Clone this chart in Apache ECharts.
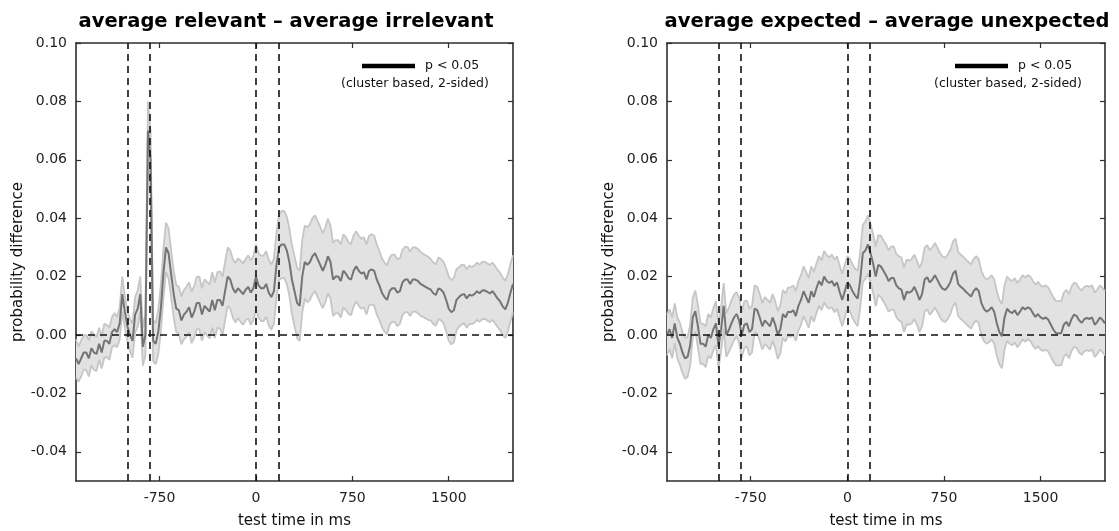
<!DOCTYPE html>
<html><head><meta charset="utf-8">
<script src="https://cdn.jsdelivr.net/npm/echarts@6/dist/echarts.min.js"></script>
<style>html,body{margin:0;padding:0;background:#fff}#c{width:1119px;height:531px}</style>
</head><body><div id="c"></div>
<script>
const panelTitles = ['average relevant \u2013 average irrelevant', 'average expected \u2013 average unexpected'];
const xTicks = [-750, 0, 750, 1500];
const yTicks = [-0.04, -0.02, 0, 0.02, 0.04, 0.06, 0.08, 0.10];
const eventLinesMs = [-1000, -825, 0, 175];
const legendLabel = 'p < 0.05';
const legendNote = '(cluster based, 2-sided)';
const timeStartMs = -1400;
const timeStepMs = 20;

// left panel: mean and SEM (20 ms steps from -1400 ms)
const relMean = [
-0.008,-0.010,-0.008,-0.006,-0.006,-0.008,-0.0045,-0.006,-0.0065,-0.003,
-0.006,-0.002,-0.002,-0.003,0.001,0.002,0.001,0.004,0.014,0.008,
0.003,0.000,-0.002,0.007,0.009,0.014,-0.004,0.000,0.070,0.060,
-0.002,-0.003,0.001,0.009,0.021,0.030,0.028,0.021,0.014,0.009,
0.0085,0.005,0.007,0.008,0.0095,0.006,0.008,0.011,0.011,0.007,
0.010,0.009,0.008,0.012,0.0085,0.012,0.012,0.010,0.015,0.020,
0.019,0.016,0.0145,0.016,0.015,0.014,0.0155,0.0165,0.0145,0.016,
0.020,0.017,0.016,0.016,0.0175,0.0145,0.013,0.015,0.024,0.030,
0.031,0.031,0.029,0.025,0.019,0.015,0.011,0.010,0.020,0.025,
0.024,0.025,0.027,0.028,0.026,0.024,0.022,0.024,0.027,0.025,
0.019,0.020,0.020,0.0185,0.022,0.021,0.0195,0.019,0.022,0.0235,
0.022,0.021,0.0215,0.019,0.022,0.0225,0.022,0.019,0.017,0.0145,
0.013,0.012,0.015,0.016,0.016,0.0145,0.015,0.018,0.019,0.019,
0.0175,0.019,0.019,0.0185,0.0175,0.017,0.0165,0.016,0.0155,0.0143,
0.0137,0.016,0.0155,0.0145,0.012,0.009,0.0078,0.0085,0.012,0.013,
0.0138,0.014,0.0125,0.0138,0.0135,0.014,0.015,0.0143,0.0152,0.0153,
0.0148,0.0142,0.015,0.0138,0.0125,0.0115,0.0098,0.0088,0.011,0.0145,
0.0175];
const relSem = [
0.0065,0.006,0.0062,0.0058,0.006,0.0062,0.0058,0.006,0.0058,0.0055,
0.0055,0.0058,0.0055,0.0055,0.0052,0.0055,0.0052,0.0055,0.006,0.0055,
0.0052,0.0055,0.0058,0.006,0.0062,0.006,0.0065,0.007,0.010,0.010,
0.007,0.007,0.0075,0.008,0.0085,0.0085,0.0085,0.008,0.008,0.008,
0.008,0.0082,0.0085,0.0085,0.0085,0.0088,0.0088,0.009,0.009,0.009,
0.009,0.0092,0.0092,0.0095,0.0095,0.0095,0.0098,0.010,0.010,0.010,
0.010,0.010,0.0102,0.0102,0.0105,0.0105,0.0105,0.0108,0.011,0.011,
0.011,0.011,0.0112,0.0112,0.0112,0.0112,0.0112,0.0112,0.0112,0.0112,
0.0115,0.0115,0.0115,0.0115,0.0118,0.012,0.012,0.012,0.0125,0.0125,
0.0128,0.013,0.013,0.013,0.013,0.013,0.0128,0.0128,0.0128,0.0125,
0.0125,0.0125,0.0125,0.0125,0.0125,0.0125,0.0122,0.0122,0.0122,0.012,
0.012,0.012,0.012,0.012,0.012,0.012,0.012,0.012,0.0118,0.0118,
0.0118,0.0118,0.0115,0.0115,0.0115,0.0115,0.0112,0.0112,0.0112,0.0112,
0.011,0.011,0.011,0.011,0.011,0.0108,0.0108,0.0108,0.0105,0.0105,
0.0105,0.0105,0.0105,0.0105,0.0108,0.011,0.011,0.011,0.0105,0.0102,
0.0102,0.010,0.010,0.010,0.0098,0.0098,0.0098,0.0098,0.0098,0.0098,
0.0098,0.0098,0.0098,0.0098,0.0098,0.0098,0.0098,0.0098,0.0098,0.0098,
0.0098];

// right panel: mean and SEM (20 ms steps from -1400 ms)
const expMean = [
0.000,0.002,-0.001,0.004,-0.001,-0.003,-0.006,-0.008,-0.0075,-0.0035,
0.006,0.0082,0.003,-0.003,-0.003,-0.004,0.000,-0.001,0.002,0.004,
-0.004,0.002,0.010,0.000,0.0017,0.004,0.006,0.0072,0.005,0.000,
0.0035,0.004,0.001,0.002,0.009,0.0085,0.006,0.003,0.005,0.004,
0.003,0.006,0.0035,0.000,0.002,0.0072,0.006,0.008,0.0078,0.0085,
0.0065,0.010,0.012,0.015,0.013,0.011,0.015,0.013,0.016,0.0185,
0.017,0.020,0.0185,0.0178,0.0185,0.0168,0.018,0.0148,0.012,0.015,
0.018,0.017,0.015,0.0135,0.0125,0.019,0.028,0.029,0.031,0.028,
0.0245,0.020,0.024,0.0235,0.022,0.0205,0.0185,0.0195,0.0195,0.017,
0.016,0.0155,0.012,0.0148,0.0145,0.015,0.0165,0.0145,0.012,0.014,
0.019,0.0198,0.018,0.019,0.0205,0.0188,0.017,0.0158,0.0155,0.0165,
0.0182,0.021,0.022,0.0175,0.0165,0.0158,0.0148,0.014,0.0132,0.015,
0.016,0.015,0.011,0.009,0.008,0.0085,0.0095,0.008,0.004,0.001,
-0.0004,0.006,0.009,0.008,0.0075,0.0085,0.0068,0.008,0.0095,0.0087,
0.0095,0.009,0.0075,0.0062,0.0072,0.006,0.0055,0.006,0.0052,0.0035,
0.0018,0.0006,0.0006,0.0006,0.0035,0.0045,0.003,0.0055,0.007,0.0065,
0.005,0.0042,0.0055,0.0058,0.0055,0.006,0.0035,0.0045,0.006,0.0052,
0.004];
const expSem = [
0.007,0.0068,0.007,0.0068,0.007,0.0072,0.007,0.007,0.0068,0.007,
0.0068,0.007,0.0072,0.007,0.0068,0.007,0.0072,0.007,0.0072,0.0075,
0.0075,0.0075,0.0078,0.0075,0.0075,0.0078,0.0078,0.0075,0.0078,0.0078,
0.008,0.0078,0.008,0.008,0.008,0.008,0.008,0.008,0.008,0.008,
0.008,0.008,0.008,0.0082,0.0082,0.0082,0.0082,0.0082,0.0085,0.0085,
0.0085,0.0085,0.0085,0.0085,0.0085,0.0085,0.0085,0.0085,0.0085,0.0085,
0.0085,0.0088,0.0088,0.0088,0.009,0.009,0.009,0.009,0.009,0.009,
0.009,0.009,0.0092,0.0092,0.0095,0.0095,0.0098,0.0098,0.010,0.010,
0.010,0.0102,0.0102,0.0105,0.0105,0.0105,0.0105,0.0108,0.0108,0.0108,
0.011,0.011,0.011,0.011,0.011,0.011,0.011,0.011,0.011,0.011,
0.011,0.011,0.011,0.011,0.011,0.011,0.011,0.011,0.011,0.011,
0.011,0.011,0.011,0.011,0.011,0.011,0.011,0.011,0.011,0.011,
0.011,0.011,0.011,0.011,0.011,0.011,0.011,0.011,0.011,0.011,
0.011,0.011,0.011,0.011,0.011,0.011,0.011,0.011,0.011,0.011,
0.011,0.011,0.011,0.011,0.011,0.011,0.011,0.011,0.011,0.011,
0.011,0.011,0.011,0.011,0.011,0.011,0.011,0.011,0.011,0.011,
0.011,0.011,0.011,0.011,0.011,0.011,0.011,0.011,0.011,0.011,
0.011];

const FONT = 'DejaVu Sans';
const AX = '#2e2e2e';
const grids = [
  {left: 76, top: 43, width: 437, height: 438, outerBoundsMode: 'none', containLabel: false},
  {left: 667, top: 43, width: 438, height: 438, outerBoundsMode: 'none', containLabel: false}
];

function timeOf(i) { return timeStartMs + i * timeStepMs; }
function pairs(vals) { return vals.map((v, i) => [timeOf(i), v]); }

function makeXAxes(g) {
  const common = {type: 'value', gridIndex: g, min: -1400, max: 2000, splitLine: {show: false},
    axisLine: {onZero: false, lineStyle: {color: AX, width: 1.6}},
    axisTick: {inside: true, length: 5, customValues: xTicks, lineStyle: {color: AX, width: 1.2}}};
  return [
    Object.assign({}, common, {position: 'bottom',
      axisLabel: {customValues: xTicks, margin: 10, color: '#222', fontSize: 14, fontFamily: FONT,
        formatter: v => String(v)},
      name: 'test time in ms', nameLocation: 'middle', nameGap: 33,
      nameTextStyle: {color: '#111', fontSize: 15, fontFamily: FONT}}),
    Object.assign({}, common, {position: 'top', axisLabel: {show: false}})
  ];
}
function makeYAxes(g) {
  const common = {type: 'value', gridIndex: g, min: -0.05, max: 0.10, splitLine: {show: false},
    axisLine: {onZero: false, lineStyle: {color: AX, width: 1.6}},
    axisTick: {inside: true, length: 5, customValues: yTicks, lineStyle: {color: AX, width: 1.2}}};
  return [
    Object.assign({}, common, {position: 'left',
      axisLabel: {customValues: yTicks, margin: 9, color: '#222', fontSize: 14, fontFamily: FONT,
        formatter: v => v.toFixed(2)},
      name: 'probability difference', nameLocation: 'middle', nameGap: 50,
      nameTextStyle: {color: '#111', fontSize: 15, fontFamily: FONT}}),
    Object.assign({}, common, {position: 'right', axisLabel: {show: false}})
  ];
}

function panelSeries(g, mean, sem) {
  const xi = g * 2, yi = g * 2;
  const upper = mean.map((m, i) => m + sem[i]);
  const lower = mean.map((m, i) => m - sem[i]);
  return [
    {type: 'custom', xAxisIndex: xi, yAxisIndex: yi, silent: true, z: 1,
      data: [[timeOf(0), mean[0]]],
      renderItem: function (params, api) {
        const up = upper.map((v, i) => api.coord([timeOf(i), v]));
        const lo = lower.map((v, i) => api.coord([timeOf(i), v])).reverse();
        return {type: 'polygon', shape: {points: up.concat(lo)}, style: {fill: '#e2e2e2', stroke: null}};
      }},
    {type: 'line', xAxisIndex: xi, yAxisIndex: yi, data: pairs(upper), showSymbol: false, silent: true, z: 2,
      lineStyle: {color: '#c6c6c6', width: 1.8}},
    {type: 'line', xAxisIndex: xi, yAxisIndex: yi, data: pairs(lower), showSymbol: false, silent: true, z: 2,
      lineStyle: {color: '#c6c6c6', width: 1.8}},
    {type: 'line', xAxisIndex: xi, yAxisIndex: yi, data: pairs(mean), showSymbol: false, silent: true, z: 3,
      lineStyle: {color: '#747474', width: 2}},
    {type: 'line', xAxisIndex: xi, yAxisIndex: yi, data: [], silent: true, z: 4,
      markLine: {silent: true, symbol: ['none', 'none'], label: {show: false}, animation: false,
        lineStyle: {color: '#111', width: 1.6, type: [7, 5]},
        data: eventLinesMs.map(v => ({xAxis: v})).concat([{yAxis: 0}])}}
  ];
}

function legendGraphic(x0) {
  return [
    {type: 'line', shape: {x1: x0, y1: 66, x2: x0 + 53, y2: 66}, style: {stroke: '#000', lineWidth: 4.5}},
    {type: 'text', x: x0 + 63, y: 66, style: {text: legendLabel, fontSize: 12.5, fontFamily: FONT, fill: '#111', verticalAlign: 'middle'}},
    {type: 'text', x: x0 - 21, y: 84, style: {text: legendNote, fontSize: 12.5, fontFamily: FONT, fill: '#111', verticalAlign: 'middle'}}
  ];
}

const chart = echarts.init(document.getElementById('c'), null, {renderer: 'canvas'});
chart.setOption({
  animation: false,
  backgroundColor: '#fff',
  title: [
    {text: panelTitles[0], left: 286, top: 12, textAlign: 'center', padding: 0,
      textStyle: {fontFamily: FONT, fontSize: 19.5, fontWeight: 'bold', color: '#000'}},
    {text: panelTitles[1], left: 887, top: 12, textAlign: 'center', padding: 0,
      textStyle: {fontFamily: FONT, fontSize: 19.5, fontWeight: 'bold', color: '#000'}}
  ],
  grid: grids,
  xAxis: makeXAxes(0).concat(makeXAxes(1)),
  yAxis: makeYAxes(0).concat(makeYAxes(1)),
  series: panelSeries(0, relMean, relSem).concat(panelSeries(1, expMean, expSem)),
  graphic: legendGraphic(362).concat(legendGraphic(955))
});
</script>
</body></html>
